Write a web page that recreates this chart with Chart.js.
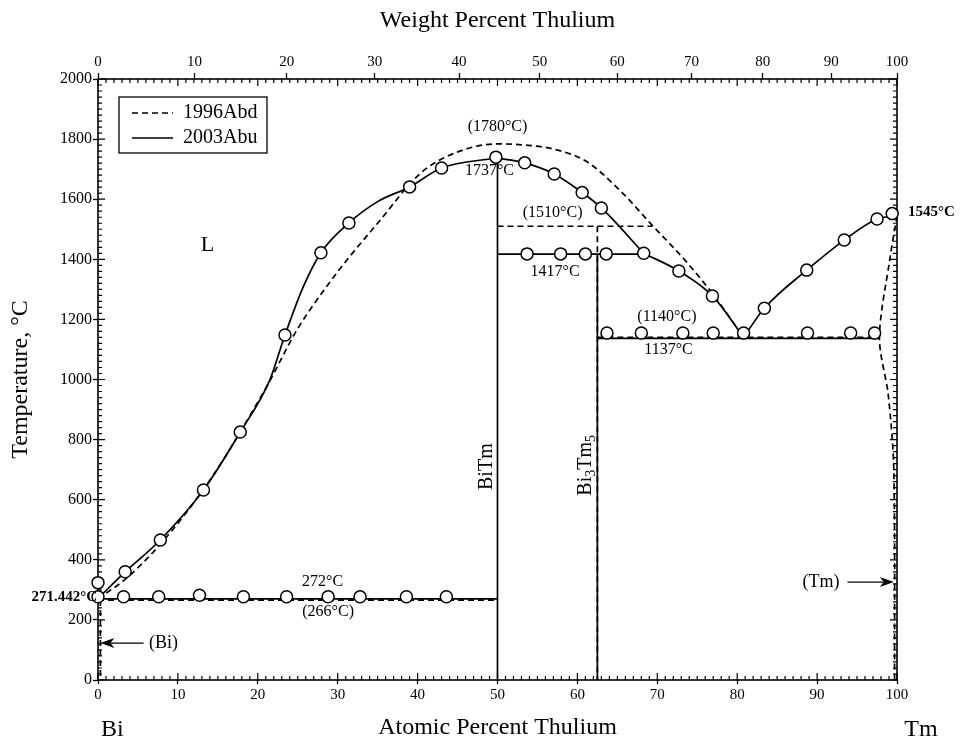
<!DOCTYPE html>
<html>
<head>
<meta charset="utf-8">
<script src="https://cdn.jsdelivr.net/npm/chart.js@4.4.0/dist/chart.umd.min.js"></script>
<style>
  html, body { margin: 0; padding: 0; background: #fff; }
</style>
</head>
<body>
<canvas id="phase" width="960" height="742"></canvas>
<script>
// --- données (x = % atomique Tm, y = °C) ---

// 2003Abu : liquidus côté Bi jusqu'au maximum de BiTm
let abuLiqBi = [[0, 271.4], [3.4, 360], [7.8, 466], [13.2, 632], [17.8, 825], [21.5, 998], [23.4, 1148], [25.7, 1309], [27.9, 1422], [31.4, 1521], [35, 1592], [39, 1641], [43, 1704], [49.8, 1737]]
// 2003Abu : du maximum jusqu'au péritectique
let abuLiqPeri = [[49.8, 1737], [53.4, 1721], [57.1, 1684], [60.6, 1622], [63, 1571], [68.3, 1420]]
// 2003Abu : du péritectique à l'eutectique
let abuLiqEut = [[68.3, 1420], [72.7, 1361], [76.9, 1278], [80.8, 1141]]
// 2003Abu : liquidus côté Tm
let abuLiqTm = [[80.8, 1141], [83.4, 1237], [88.7, 1364], [93.4, 1464], [97.5, 1534], [100, 1545]]
// 2003Abu : lignes droites (composés et paliers)
let abuBiTm = [[50, 0], [50, 1737]]
let abuBi3Tm5 = [[62.5, 0], [62.5, 1417]]
let abu272 = [[0, 270], [50, 270]]
let abu1417 = [[50, 1417], [68.3, 1417]]
let abu1137 = [[62.5, 1137], [97.8, 1137]]
// 2003Abu : points expérimentaux (cercles)
let abuPoints = [
  [0, 324], [0, 277], [3.4, 360], [7.8, 466], [13.2, 632], [17.8, 825], [23.4, 1148], [27.9, 1422], [31.4, 1521], [39, 1641], [43, 1704], [49.8, 1740],
  [53.4, 1721], [57.1, 1684], [60.6, 1622], [63, 1571], [68.3, 1420], [72.7, 1361], [76.9, 1278],
  [53.7, 1418], [57.9, 1418], [61, 1418], [63.6, 1418],
  [63.7, 1155], [68, 1155], [73.2, 1155], [77, 1155], [80.8, 1155], [88.8, 1155], [94.2, 1155], [97.2, 1155],
  [83.4, 1237], [88.7, 1364], [93.4, 1464], [97.5, 1534], [99.4, 1552],
  [3.2, 277], [7.6, 277], [12.7, 282], [18.2, 277], [23.6, 277], [28.8, 277], [32.8, 277], [38.6, 277], [43.6, 277]
]

// 1996Abd : liquidus (tirets)
let abdLiq = [[0, 271], [3.4, 335], [7.8, 452], [14, 665], [21.1, 976], [24.9, 1165], [28.6, 1309], [31.5, 1409], [35, 1520], [40.3, 1685], [44.5, 1752], [49.9, 1784], [53.5, 1780], [57, 1767], [61.1, 1726], [65.3, 1630], [69.4, 1512], [73.6, 1393], [77.2, 1275], [80.8, 1140]]
let abd1510 = [[50, 1510], [69.4, 1510]]
let abdBi3Tm5 = [[62.5, 1510], [62.5, 0]]
let abd266 = [[0, 266], [50, 266]]
let abd1140 = [[62.5, 1140], [97.8, 1140]]
let abdSolvusTm = [[100, 1545], [99.1, 1400], [97.8, 1140], [98.9, 950], [99.6, 700], [99.7, 0]]
let abdSolvusBi = [[0.3, 266], [0.3, 0]]

// graduations
let atTicks = [0, 10, 20, 30, 40, 50, 60, 70, 80, 90, 100]
let wtTicks = [0, 10, 20, 30, 40, 50, 60, 70, 80, 90, 100]
let tempTicks = [0, 200, 400, 600, 800, 1000, 1200, 1400, 1600, 1800, 2000]
let legendNames = ['1996Abd', '2003Abu']

const M_BI = 208.98, M_TM = 168.934
function wtToAt(w) {
  let a = w / M_TM, b = (100 - w) / M_BI
  return 100 * a / (a + b)
}

const FONT = "'Liberation Serif', 'Times New Roman', serif"

function pts(arr) {
  return arr.map(function (p) { return { x: p[0], y: p[1] } })
}

// mode : undefined = segments droits, 'mono' = courbe monotone, nombre = tension
function ligne(arr, dashed, mode) {
  let ds = {
    data: pts(arr),
    showLine: true,
    borderColor: '#000',
    borderWidth: 1.7,
    borderDash: dashed ? [6, 4] : [],
    pointRadius: 0,
    tension: 0,
    fill: false,
    clip: false,
    order: 2
  }
  if (mode == 'mono') {
    ds.cubicInterpolationMode = 'monotone'
    ds.tension = 0.4
  } else if (mode) {
    ds.tension = mode
  }
  return ds
}

let datasets = [
  {
    data: pts(abuPoints),
    showLine: false,
    pointRadius: 6,
    pointBackgroundColor: '#fff',
    pointBorderColor: '#000',
    pointBorderWidth: 1.5,
    clip: false,
    order: 0
  },
  ligne(abuLiqBi, false, 'mono'),
  ligne(abuLiqPeri, false, 'mono'),
  ligne(abuLiqEut, false, 'mono'),
  ligne(abuLiqTm, false, 'mono'),
  ligne(abuBiTm, false),
  ligne(abuBi3Tm5, false),
  ligne(abu272, false),
  ligne(abu1417, false),
  ligne(abu1137, false),
  ligne(abdLiq, true, 'mono'),
  ligne(abd1510, true),
  ligne(abdBi3Tm5, true),
  ligne(abd266, true),
  ligne(abd1140, true),
  ligne(abdSolvusTm, true, 0.3),
  ligne(abdSolvusBi, true)
]

function texte(ctx, s, x, y, size, align, bold) {
  ctx.font = (bold ? 'bold ' : '') + size + 'px ' + FONT
  ctx.textAlign = align || 'center'
  ctx.textBaseline = 'middle'
  ctx.fillText(s, x, y)
}

function fleche(ctx, x1, x2, y) {
  let dir = x2 > x1 ? 1 : -1
  ctx.lineWidth = 1.2
  ctx.beginPath()
  ctx.moveTo(x1, y); ctx.lineTo(x2 - dir * 10, y)
  ctx.stroke()
  ctx.beginPath()
  ctx.moveTo(x2, y); ctx.lineTo(x2 - dir * 14, y - 5); ctx.lineTo(x2 - dir * 10, y); ctx.lineTo(x2 - dir * 14, y + 5)
  ctx.closePath()
  ctx.fill()
}

const decor = {
  id: 'decor',
  beforeDatasetsDraw(chart) {
    const ctx = chart.ctx, a = chart.chartArea
    const xs = chart.scales.x, ys = chart.scales.y
    ctx.save()
    ctx.strokeStyle = '#000'
    ctx.lineWidth = 1.6
    ctx.strokeRect(a.left, a.top, a.right - a.left, a.bottom - a.top)
    // petites graduations vers l'intérieur
    ctx.lineWidth = 1.2
    ctx.beginPath()
    for (let i = 0; i <= 100; i++) {
      let px = xs.getPixelForValue(i), l = i % 10 == 0 ? 7 : 4
      ctx.moveTo(px, a.bottom); ctx.lineTo(px, a.bottom - l)
      ctx.moveTo(px, a.top); ctx.lineTo(px, a.top + l)
    }
    for (let t = 0; t <= 2000; t += 20) {
      let py = ys.getPixelForValue(t), l = t % 200 == 0 ? 7 : 4
      ctx.moveTo(a.left, py); ctx.lineTo(a.left + l, py)
      ctx.moveTo(a.right, py); ctx.lineTo(a.right - l, py)
    }
    ctx.stroke()
    ctx.restore()
  },
  afterDatasetsDraw(chart) {
    const ctx = chart.ctx, a = chart.chartArea
    const xs = chart.scales.x, ys = chart.scales.y
    const X = function (v) { return xs.getPixelForValue(v) }
    const Y = function (v) { return ys.getPixelForValue(v) }
    ctx.save()
    ctx.fillStyle = '#000'
    ctx.strokeStyle = '#000'

    // légende
    let lx = a.left + 21, ly = a.top + 18
    ctx.lineWidth = 1.3
    ctx.strokeRect(lx, ly, 148, 56)
    ctx.lineWidth = 1.6
    ctx.setLineDash([6, 4])
    ctx.beginPath(); ctx.moveTo(lx + 13, ly + 16); ctx.lineTo(lx + 54, ly + 16); ctx.stroke()
    ctx.setLineDash([])
    ctx.beginPath(); ctx.moveTo(lx + 13, ly + 41); ctx.lineTo(lx + 54, ly + 41); ctx.stroke()
    texte(ctx, legendNames[0], lx + 64, ly + 16, 20, 'left')
    texte(ctx, legendNames[1], lx + 64, ly + 41, 20, 'left')

    // annotations
    texte(ctx, '(1780°C)', X(50), Y(1840), 16)
    texte(ctx, '1737°C', X(49), Y(1695), 16)
    texte(ctx, '(1510°C)', X(56.9), Y(1554), 16)
    texte(ctx, '1417°C', X(57.2), Y(1358), 16)
    texte(ctx, '(1140°C)', X(71.2), Y(1208), 16)
    texte(ctx, '1137°C', X(71.4), Y(1098), 16)
    texte(ctx, '272°C', X(28.1), Y(326), 16)
    texte(ctx, '(266°C)', X(28.8), Y(226), 16)
    texte(ctx, 'L', X(13.7), Y(1448), 22)
    texte(ctx, '271.442°C', a.left - 1, Y(276), 15, 'right', true)
    texte(ctx, '1545°C', a.right + 11, Y(1557), 15, 'left', true)
    texte(ctx, '(Bi)', X(8.2), Y(123), 18)
    texte(ctx, '(Tm)', X(90.5), Y(326), 18)
    fleche(ctx, X(5.7), X(0.3), Y(123))
    fleche(ctx, X(93.8), X(99.6), Y(326))

    // noms des composés (verticaux)
    ctx.save()
    ctx.translate(X(48.6), Y(710))
    ctx.rotate(-Math.PI / 2)
    texte(ctx, 'BiTm', 0, 0, 20)
    ctx.restore()
    ctx.save()
    ctx.translate(X(61.1), Y(720))
    ctx.rotate(-Math.PI / 2)
    ctx.font = '20px ' + FONT
    ctx.textAlign = 'left'
    ctx.textBaseline = 'middle'
    let x0 = -32
    ctx.fillText('Bi', x0, 0); x0 += ctx.measureText('Bi').width
    ctx.font = '14px ' + FONT
    ctx.fillText('3', x0, 5); x0 += ctx.measureText('3').width
    ctx.font = '20px ' + FONT
    ctx.fillText('Tm', x0, 0); x0 += ctx.measureText('Tm').width
    ctx.font = '14px ' + FONT
    ctx.fillText('5', x0, 5)
    ctx.restore()

    // éléments purs sous l'axe
    texte(ctx, 'Bi', X(1.8), a.bottom + 50, 24)
    texte(ctx, 'Tm', X(103), a.bottom + 50, 24)
    ctx.restore()
  }
}

Chart.defaults.font.family = FONT
Chart.defaults.color = '#000'

new Chart(document.getElementById('phase'), {
  type: 'scatter',
  data: { datasets: datasets },
  options: {
    responsive: false,
    animation: false,
    layout: { padding: { left: 0, right: 63, top: 0, bottom: 0 } },
    plugins: { legend: { display: false }, tooltip: { enabled: false } },
    scales: {
      x: {
        type: 'linear', position: 'bottom', min: 0, max: 100,
        afterBuildTicks: function (scale) { scale.ticks = atTicks.map(function (v) { return { value: v } }) },
        afterFit: function (scale) { scale.height = 62 },
        ticks: {
          autoSkip: false, maxRotation: 0, padding: 2, font: { size: 15 },
          callback: function (v) { return String(v) }
        },
        grid: { drawOnChartArea: false, tickLength: 4, tickColor: '#000', tickWidth: 1.3 },
        border: { display: false },
        title: { display: true, text: 'Atomic Percent Thulium', font: { size: 24 }, padding: { top: 0, bottom: 0 } }
      },
      xTop: {
        type: 'linear', position: 'top', min: 0, max: 100,
        afterBuildTicks: function (scale) { scale.ticks = wtTicks.map(function (w) { return { value: wtToAt(w) } }) },
        afterFit: function (scale) { scale.height = 79 },
        ticks: {
          autoSkip: false, maxRotation: 0, padding: 2, font: { size: 15 },
          callback: function (v, i) { return String(wtTicks[i]) }
        },
        grid: { drawOnChartArea: false, tickLength: 6, tickColor: '#000', tickWidth: 1.3 },
        border: { display: false },
        title: { display: true, text: 'Weight Percent Thulium', font: { size: 24 }, padding: { top: 6, bottom: 0 } }
      },
      y: {
        type: 'linear', position: 'left', min: 0, max: 2000,
        afterBuildTicks: function (scale) { scale.ticks = tempTicks.map(function (v) { return { value: v } }) },
        afterFit: function (scale) { scale.width = 98 },
        ticks: {
          autoSkip: false, padding: 1, font: { size: 16 },
          callback: function (v) { return String(v) }
        },
        grid: { drawOnChartArea: false, tickLength: 5, tickColor: '#000', tickWidth: 1.3 },
        border: { display: false },
        title: { display: true, text: 'Temperature, °C', font: { size: 24 }, padding: { top: 6, bottom: 0 } }
      }
    }
  },
  plugins: [decor]
})
</script>
</body>
</html>
